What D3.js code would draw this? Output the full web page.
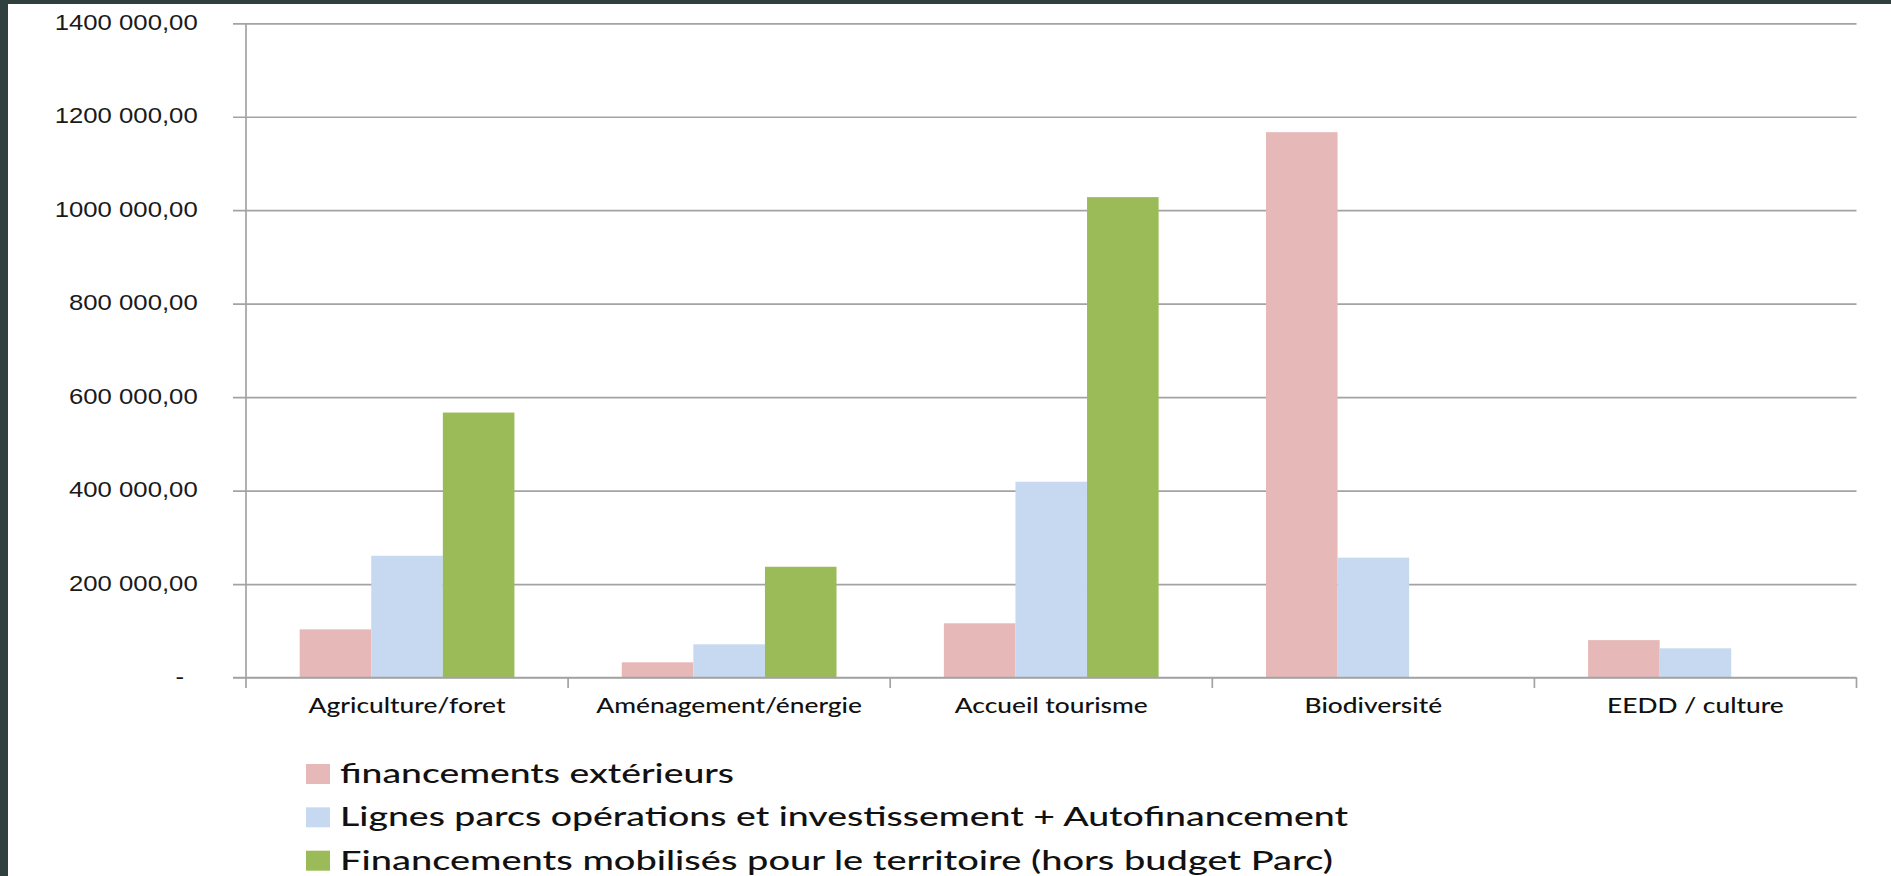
<!DOCTYPE html>
<html><head><meta charset="utf-8">
<script src="https://cdn.jsdelivr.net/npm/d3@7/dist/d3.min.js"></script>
<style>
html,body{margin:0;padding:0;background:#ffffff;overflow:hidden}
svg{display:block}
</style>
</head><body>
<svg id="chart" width="1891" height="876"></svg>
<script>
// ---- data ----
const categories = ["Agriculture/foret", "Aménagement/énergie", "Accueil tourisme", "Biodiversité", "EEDD / culture"];
const seriesNames = [
  "financements extérieurs",
  "Lignes parcs opérations et investissement + Autofinancement",
  "Financements mobilisés pour le territoire (hors budget Parc)"
];
const financementsExterieurs = [103000, 32500, 116000, 1167000, 80000];
const lignesParcs = [260500, 71000, 419000, 256500, 62500];
const financementsMobilises = [567000, 237000, 1028000, null, null];
const yTickValues = [0, 200000, 400000, 600000, 800000, 1000000, 1200000, 1400000];
const yTickLabels = ["-", "200 000,00", "400 000,00", "600 000,00", "800 000,00", "1000 000,00", "1200 000,00", "1400 000,00"];
const seriesColors = ["#E6B8B7", "#C6D9F1", "#9BBB59"];

// ---- layout ----
const svg = d3.select("#chart");
const W = 1891, H = 876;
const plot = {left: 246, right: 1856.5, top: 23.3, bottom: 677.5};
const gridStart = 233;
const gridColor = "#a3a3a3";
const legendWidths = [394, 1008, 993];

// background + dark frame
svg.append("rect").attr("x", 0).attr("y", 0).attr("width", W).attr("height", H).attr("fill", "#ffffff");
svg.append("rect").attr("x", 0).attr("y", 0).attr("width", W).attr("height", 4).attr("fill", "#2f403e");
svg.append("rect").attr("x", 0).attr("y", 0).attr("width", 8).attr("height", H).attr("fill", "#2f403e");

const x = d3.scaleBand().domain(categories).range([plot.left, plot.right]).paddingInner(0).paddingOuter(0);
const xs = d3.scaleBand().domain(d3.range(seriesNames.length)).range([0, x.bandwidth()]).paddingInner(0).paddingOuter(0.75);
const y = d3.scaleLinear().domain([0, 1400000]).range([plot.bottom, plot.top]);

function stretchTexts(sel, refText, refWidth) {
  let refNat = null;
  sel.each(function() { if (this.textContent === refText) refNat = this.getComputedTextLength(); });
  if (!refNat) return;
  const k = refWidth / refNat;
  sel.each(function() {
    const n = this.getComputedTextLength();
    d3.select(this).attr("textLength", n * k).attr("lengthAdjust", "spacingAndGlyphs");
  });
}

// y axis with gridlines
const yAxis = d3.axisLeft(y)
  .tickValues(yTickValues)
  .tickFormat((d, i) => yTickLabels[i])
  .tickSizeInner(-(plot.right - gridStart))
  .tickSizeOuter(0)
  .tickPadding(35.3);
const gy = svg.append("g").attr("transform", `translate(${gridStart},0)`).call(yAxis);
gy.select(".domain").remove();
gy.selectAll(".tick line").attr("stroke", gridColor).attr("stroke-width", 1.7);
const yTexts = gy.selectAll(".tick text")
  .attr("fill", "#1a1a1a")
  .attr("font-family", "'Liberation Sans', Arial, sans-serif")
  .attr("font-size", 22.5)
  .attr("dy", "0.27em");
yTexts.filter(function() { return this.textContent === "-"; }).attr("x", -(35.3 + 13.7));
stretchTexts(yTexts, "1400 000,00", 143);

// bars
const seriesValues = [financementsExterieurs, lignesParcs, financementsMobilises];
const barData = [];
seriesValues.forEach((vals, si) => vals.forEach((v, ci) => {
  if (v !== null && v > 0) barData.push({s: si, c: categories[ci], v: v});
}));
svg.append("g").selectAll("rect").data(barData).join("rect")
  .attr("x", d => x(d.c) + xs(d.s))
  .attr("width", xs.bandwidth())
  .attr("y", d => y(d.v))
  .attr("height", d => y(0) - y(d.v))
  .attr("fill", d => seriesColors[d.s]);

// axes lines
svg.append("line").attr("x1", plot.left).attr("x2", plot.left).attr("y1", plot.top).attr("y2", plot.bottom + 10.5)
  .attr("stroke", gridColor).attr("stroke-width", 1.7);
svg.append("line").attr("x1", gridStart).attr("x2", plot.right).attr("y1", y(0)).attr("y2", y(0))
  .attr("stroke", gridColor).attr("stroke-width", 1.7);
const boundaries = categories.map(c => x(c)).concat([x(categories[categories.length - 1]) + x.bandwidth()]);
svg.append("g").selectAll("line").data(boundaries.slice(1)).join("line")
  .attr("x1", d => d).attr("x2", d => d).attr("y1", y(0)).attr("y2", y(0) + 10.5)
  .attr("stroke", gridColor).attr("stroke-width", 1.7);

// category labels
const catTexts = svg.append("g").selectAll("text").data(categories).join("text")
  .attr("x", d => x(d) + x.bandwidth() / 2)
  .attr("y", 712.5)
  .attr("text-anchor", "middle")
  .attr("font-family", "Lato, 'Open Sans', sans-serif")
  .attr("font-weight", 500)
  .attr("font-size", 21.5)
  .attr("fill", "#111")
  .text(d => d);
stretchTexts(catTexts, "Accueil tourisme", 193);

// legend
const legY = d3.scaleLinear().domain([0, 2]).range([764, 850.7]);
const leg = svg.append("g").selectAll("g").data(seriesNames).join("g");
leg.append("rect")
  .attr("x", 306).attr("y", (d, i) => legY(i))
  .attr("width", 24).attr("height", 20)
  .attr("fill", (d, i) => seriesColors[i]);
leg.append("text")
  .attr("x", 340).attr("y", (d, i) => legY(i) + 19)
  .attr("font-family", "Lato, 'Open Sans', sans-serif")
  .attr("font-weight", 500)
  .attr("font-size", 26.5)
  .attr("fill", "#111")
  .attr("textLength", (d, i) => legendWidths[i])
  .attr("lengthAdjust", "spacingAndGlyphs")
  .text(d => d);
</script>
</body></html>
